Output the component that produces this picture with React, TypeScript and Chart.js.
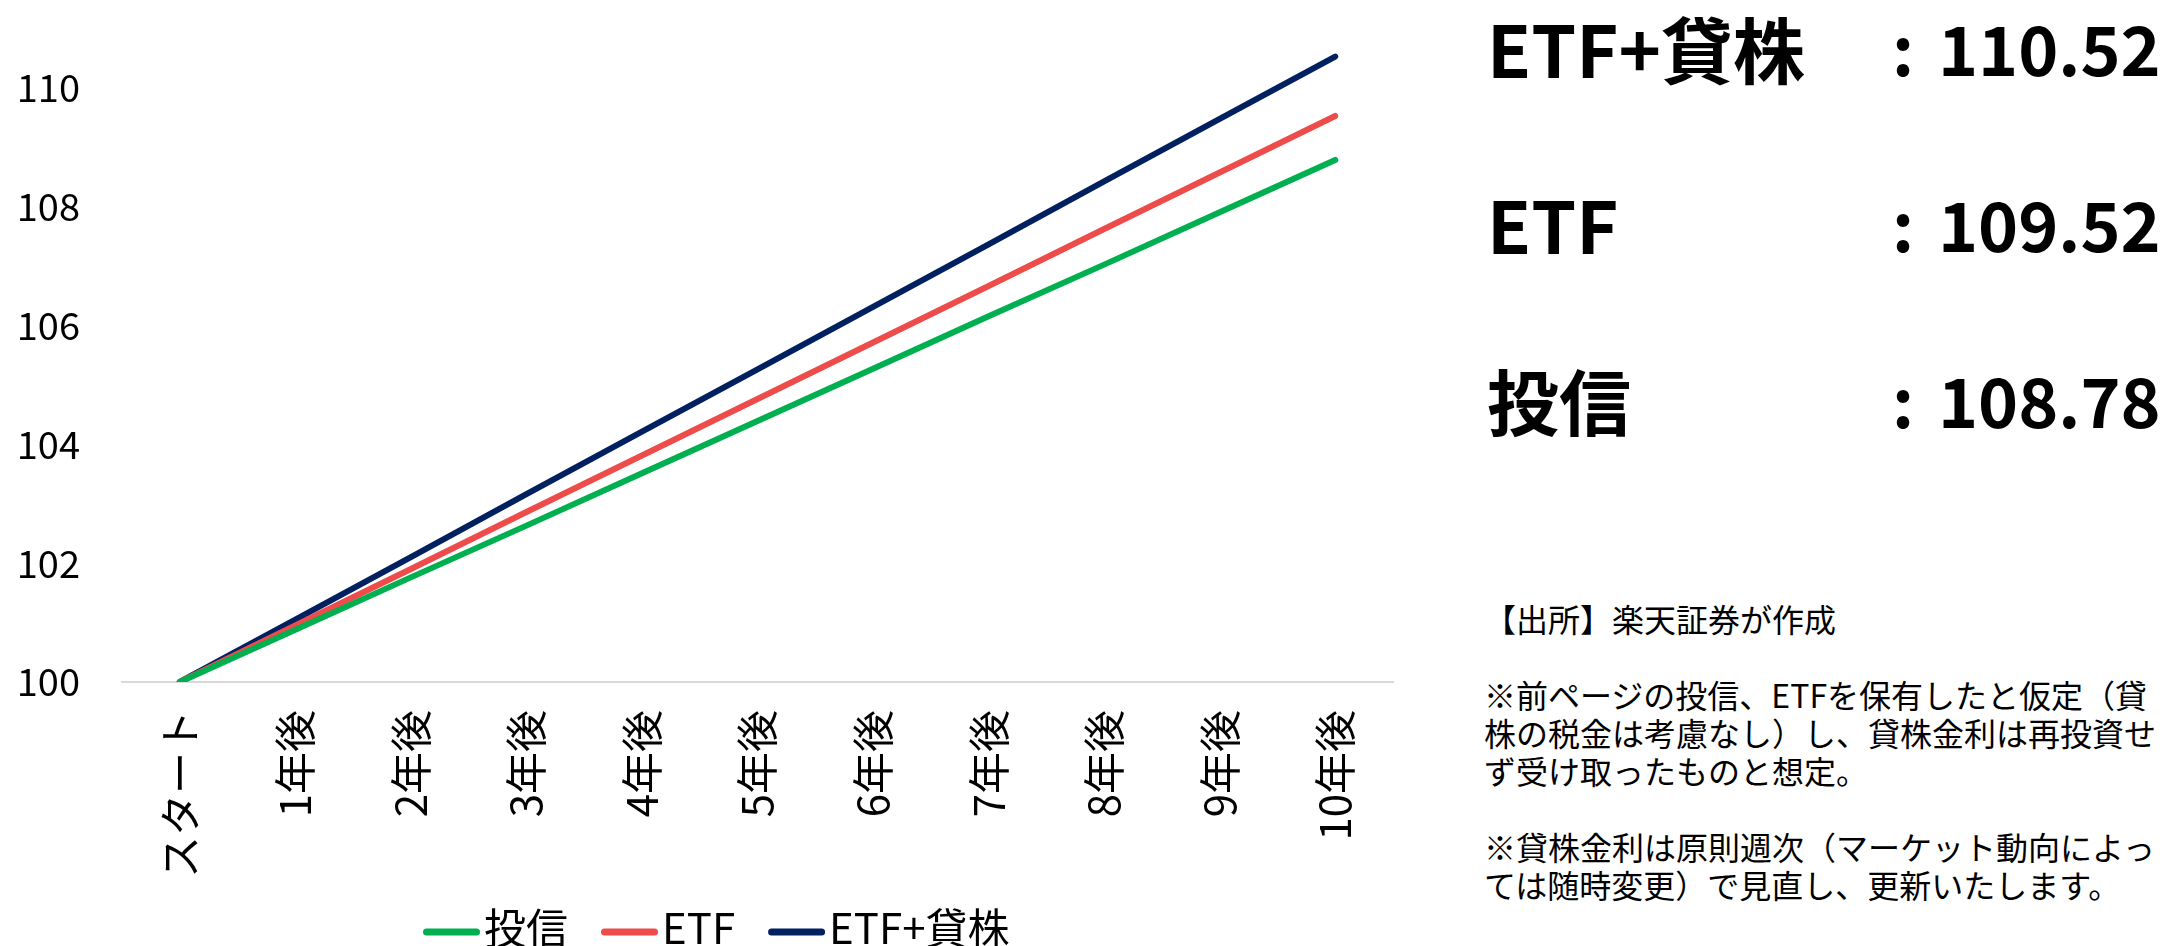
import React, { useEffect, useRef } from "react";
import { Chart, registerables } from "chart.js";

Chart.register(...registerables);

const categories = ["スタート", "1年後", "2年後", "3年後", "4年後", "5年後", "6年後", "7年後", "8年後", "9年後", "10年後"];
const seriesNames = ["投信", "ETF", "ETF+貸株"];
const toushinValues = [100, 100.88, 101.76, 102.63, 103.51, 104.39, 105.27, 106.15, 107.02, 107.9, 108.78];
const etfValues = [100, 100.95, 101.9, 102.86, 103.81, 104.76, 105.71, 106.66, 107.62, 108.57, 109.52];
const etfLendValues = [100, 101.05, 102.1, 103.16, 104.21, 105.26, 106.31, 107.36, 108.42, 109.47, 110.52];
const seriesColors = ["#00B050", "#EE4B4B", "#002060"];
const yTicks = [100, 102, 104, 106, 108, 110];

const summaryLabels = ["ETF+貸株", "ETF", "投信"];
const summaryValues = ["110.52", "109.52", "108.78"];
const noteLines = [
  "【出所】楽天証券が作成",
  "",
  "※前ページの投信、ETFを保有したと仮定（貸",
  "株の税金は考慮なし）し、貸株金利は再投資せ",
  "ず受け取ったものと想定。",
  "",
  "※貸株金利は原則週次（マーケット動向によっ",
  "ては随時変更）で見直し、更新いたします。",
];

const FONT = "'Noto Sans CJK JP', 'Noto Sans', sans-serif";

const legendPlugin = {
  id: "customLegend",
  afterDraw(chart: any) {
    const ctx = chart.ctx;
    ctx.save();
    ctx.font = `42px ${FONT}`;
    ctx.textBaseline = "middle";
    ctx.textAlign = "left";
    let x = 423;
    const lineY = 932;
    const textY = 928;
    chart.data.datasets.forEach((ds: any) => {
      ctx.strokeStyle = ds.borderColor;
      ctx.lineWidth = 7;
      ctx.lineCap = "round";
      ctx.beginPath();
      ctx.moveTo(x + 3.5, lineY);
      ctx.lineTo(x + 57 - 3.5, lineY);
      ctx.stroke();
      x += 57 + 4;
      ctx.fillStyle = "#000";
      ctx.fillText(ds.label, x, textY);
      x += ctx.measureText(ds.label).width + 33;
    });
    ctx.restore();
  },
};

function LineChart() {
  const ref = useRef<HTMLCanvasElement | null>(null);
  useEffect(() => {
    if (!ref.current) return;
    const values = [toushinValues, etfValues, etfLendValues];
    const chart = new Chart(ref.current, {
      type: "line",
      data: {
        labels: categories,
        datasets: seriesNames.map((name, i) => ({
          label: name,
          data: values[i],
          borderColor: seriesColors[i],
          backgroundColor: seriesColors[i],
          borderWidth: 6,
          pointRadius: 0,
          pointHoverRadius: 0,
          tension: 0,
          borderCapStyle: "round" as const,
          borderJoinStyle: "round" as const,
          fill: false,
        })),
      },
      options: {
        animation: false,
        responsive: true,
        maintainAspectRatio: false,
        layout: { padding: { left: 0, right: 7, top: 28, bottom: 68 } },
        plugins: {
          legend: { display: false },
          tooltip: { enabled: false },
        },
        scales: {
          x: {
            type: "category",
            offset: true,
            grid: { display: false, drawTicks: false },
            border: { display: true, color: "#D9D9D9", width: 2 },
            afterFit: (scale: any) => {
              scale.height = 196;
              scale.paddingLeft = 0;
              scale.paddingRight = 0;
            },
            ticks: {
              minRotation: 90,
              maxRotation: 90,
              padding: 28,
              color: "#000",
              font: { family: FONT, size: 42 },
            },
          },
          y: {
            min: 100,
            max: 111,
            grid: { display: false, drawTicks: false },
            border: { display: false },
            afterBuildTicks: (scale: any) => {
              scale.ticks = yTicks.map((v) => ({ value: v }));
            },
            afterFit: (scale: any) => {
              scale.width = 122;
              scale.paddingTop = 0;
              scale.paddingBottom = 0;
            },
            ticks: {
              padding: 42,
              color: "#000",
              font: { family: FONT, size: 38 },
            },
          },
        },
      },
      plugins: [legendPlugin],
    });
    return () => chart.destroy();
  }, []);
  return <canvas ref={ref} />;
}

export default function App() {
  return (
    <div style={{ position: "absolute", left: 0, top: 0, width: 2174, height: 946, background: "#fff", overflow: "hidden", fontFamily: FONT }}>
      <div style={{ position: "absolute", left: 0, top: 0, width: 1400, height: 946 }}>
        <LineChart />
      </div>
      {summaryLabels.map((label, i) => (
        <div key={label} style={{ position: "absolute", top: 11 + i * 176, left: 1487, height: 72, lineHeight: "72px", fontWeight: 700, color: "#000", whiteSpace: "nowrap" }}>
          <span style={{ position: "absolute", left: 0, top: 0, fontSize: 72 }}>{label}</span>
          <span style={{ position: "absolute", left: 405, top: 0, fontSize: 68 }}>:</span>
          <span style={{ position: "absolute", left: 451, top: 0, fontSize: 68 }}>{summaryValues[i]}</span>
        </div>
      ))}
      <div style={{ position: "absolute", left: 1484, top: 599, fontSize: 32, lineHeight: "38px", color: "#000", whiteSpace: "nowrap" }}>
        {noteLines.map((line, i) => (
          <div key={i} style={{ height: 38 }}>{line}</div>
        ))}
      </div>
    </div>
  );
}
